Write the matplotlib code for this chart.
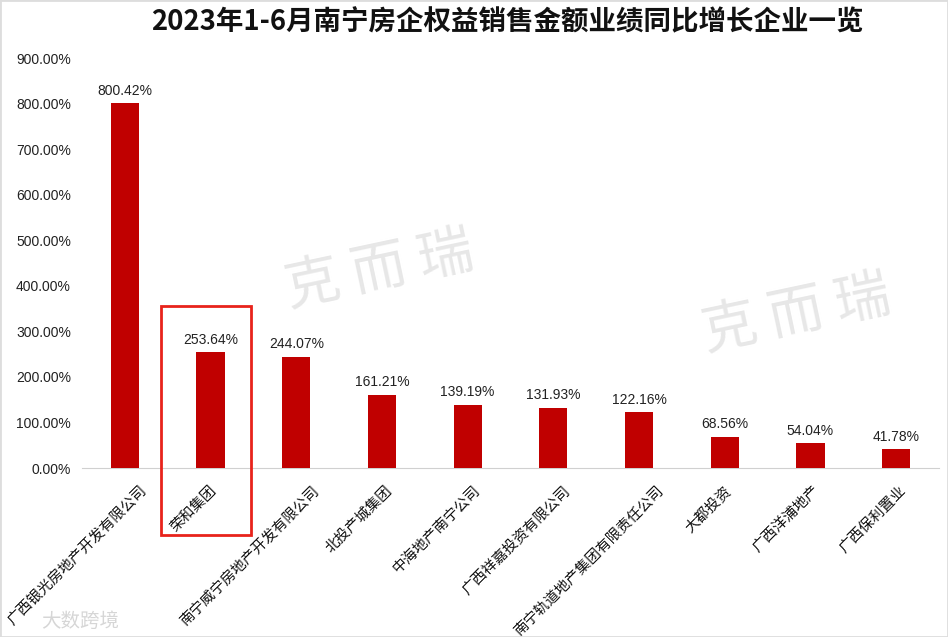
import matplotlib
matplotlib.use("Agg")
import matplotlib.pyplot as plt
import matplotlib.transforms as mtransforms
from matplotlib.patches import Rectangle
from matplotlib.ticker import FuncFormatter

plt.rcParams['font.family'] = ['Noto Sans CJK SC', 'DejaVu Sans']

title = "2023年1-6月南宁房企权益销售金额业绩同比增长企业一览"
companies = ["广西银光房地产开发有限公司", "荣和集团", "南宁威宁房地产开发有限公司",
             "北投产城集团", "中海地产南宁公司", "广西祥嘉投资有限公司",
             "南宁轨道地产集团有限责任公司", "大都投资", "广西洋浦地产", "广西保利置业"]
growth = [800.42, 253.64, 244.07, 161.21, 139.19, 131.93, 122.16, 68.56, 54.04, 41.78]
y_ticks = [0, 100, 200, 300, 400, 500, 600, 700, 800, 900]
highlight_index = 1

fig = plt.figure(figsize=(9.48, 6.37), dpi=100)
ax = fig.add_axes([82/948, 1-468/637, 857/948, (468-58)/637])

x = list(range(len(companies)))
ax.bar(x, growth, width=0.33, color="#C00000", zorder=3)
for xi, v in zip(x, growth):
    ax.text(xi, v + 12, f"{v:.2f}%", ha="center", va="bottom", fontsize=10,
            color="#222222", family=["Liberation Sans", "DejaVu Sans"], zorder=4)

ax.set_xlim(-0.5, len(companies) - 0.5)
ax.set_ylim(0, 900)
ax.set_yticks(y_ticks)
ax.yaxis.set_major_formatter(FuncFormatter(lambda v, p: f"{v:.2f}%"))
for lab in ax.get_yticklabels():
    lab.set_family(["Liberation Sans", "DejaVu Sans"])
ax.tick_params(axis="y", length=0, labelsize=10, labelcolor="#222222", pad=8)
ax.tick_params(axis="x", length=0, pad=11)
ax.set_xticks(x)
ax.set_xticklabels(companies, rotation=45, ha="right", rotation_mode="anchor",
                   fontsize=10.5, color="#111111")
# Excel-like placement: longer rotated labels shift further right
for lab, name in zip(ax.get_xticklabels(), companies):
    dx = (1.8 * (len(name) - 4) - 1) / 100.0
    lab.set_transform(lab.get_transform() +
                      mtransforms.ScaledTranslation(dx, 0, fig.dpi_scale_trans))
for s in ["top", "right", "left"]:
    ax.spines[s].set_visible(False)
ax.spines["bottom"].set_color("#D0D0D0")

# highlight box
rect = Rectangle((highlight_index - 0.575, -148), 1.045, 503, fill=False,
                 edgecolor="#E8231B", linewidth=2, clip_on=False, zorder=5)
ax.add_patch(rect)

fig.text(0.535, 0.965, title, ha="center", va="center", fontsize=19.8,
         fontweight="bold", color="#111111")

# watermarks
fig.text(0.40, 0.575, "克 而 瑞", ha="center", va="center", fontsize=40,
         color="#BBBBBB", alpha=0.35, rotation=12, zorder=0)
fig.text(0.84, 0.505, "克 而 瑞", ha="center", va="center", fontsize=40,
         color="#BBBBBB", alpha=0.35, rotation=12, zorder=0)
fig.text(0.085, 0.025, "大数跨境", ha="center", va="center", fontsize=14,
         color="#CCCCCC", alpha=0.8)

fig.patches.append(Rectangle((0, 0), 1, 1, transform=fig.transFigure, fill=False,
                             edgecolor="#DDDDDD", linewidth=2))

fig.savefig("out.png", dpi=100)
